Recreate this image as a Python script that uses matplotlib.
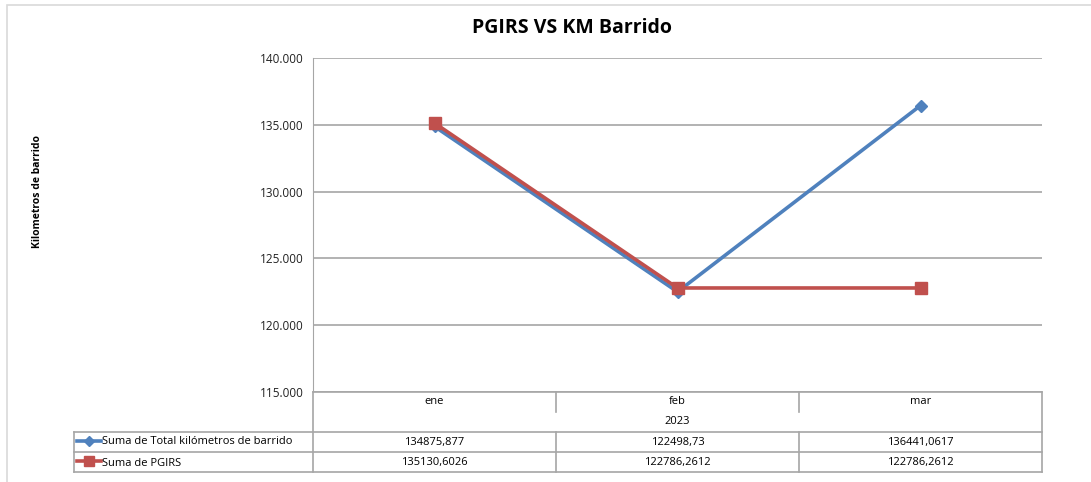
import matplotlib.pyplot as plt
from matplotlib.lines import Line2D
from matplotlib.patches import Rectangle

months = ['ene', 'feb', 'mar']
year = '2023'
km_barrido = [134875.877, 122498.73, 136441.0617]
pgirs = [135130.6026, 122786.2612, 122786.2612]
km_labels = ['134875,877', '122498,73', '136441,0617']
pgirs_labels = ['135130,6026', '122786,2612', '122786,2612']
series_names = ['Suma de Total kilómetros de barrido', 'Suma de PGIRS']
yticks = [115000, 120000, 125000, 130000, 135000, 140000]

W, H = 1091, 482
blue = '#4F81BD'
red = '#C0504D'
grid = '#A6A6A6'
plt.rcParams['font.family'] = ['Open Sans', 'DejaVu Sans']

fig = plt.figure(figsize=(W / 100, H / 100), dpi=100)

# plot area in pixel coords
x0, x1 = 313, 1042
ytop, ybot = 58, 392
ax = fig.add_axes([x0 / W, 1 - ybot / H, (x1 - x0) / W, (ybot - ytop) / H])
ax.set_xlim(-0.5, 2.5)
ax.set_ylim(115000, 140000)
ax.set_yticks(yticks)
ax.set_yticklabels([f'{v // 1000}.000' for v in yticks], fontsize=8.5, color='#222222')
ax.set_xticks([])
ax.tick_params(axis='y', length=0, pad=7)
for s in ['top', 'right', 'bottom']:
    ax.spines[s].set_visible(False)
ax.spines['left'].set_color(grid)
ax.yaxis.grid(True, color=grid, linewidth=1.2)
ax.set_axisbelow(True)

ax.plot(range(3), km_barrido, color=blue, lw=2.6, marker='D', ms=6, zorder=3)
ax.plot(range(3), pgirs, color=red, lw=2.6, marker='s', ms=8, zorder=4)


def px(x, y):
    return x / W, 1 - y / H


def hline(y, xa, xb):
    fig.add_artist(Line2D([xa / W, xb / W], [1 - y / H, 1 - y / H], color=grid, lw=1.2))


def vline(x, ya, yb):
    fig.add_artist(Line2D([x / W, x / W], [1 - ya / H, 1 - yb / H], color=grid, lw=1.2))


# outer chart border
fig.add_artist(Rectangle((7 / W, -0.1), 1.0, 1.1 - 5 / H, transform=fig.transFigure,
                         fill=False, edgecolor='#D9D9D9', lw=1.2))

# data table
cw = (x1 - x0) / 3
hline(ybot, x0, x1)
for y in [432, 452, 472]:
    hline(y, 74, x1)
vline(x0, ybot, 472)
vline(x1, ybot, 472)
vline(74, 432, 472)
for i in (1, 2):
    xs = x0 + i * cw
    vline(xs, ybot, 412)
    vline(xs, 432, 472)

for i, m in enumerate(months):
    cx = x0 + (i + 0.5) * cw
    fig.text(*px(cx, 402), m, ha='center', va='center', fontsize=8)
    fig.text(*px(cx, 442), km_labels[i], ha='center', va='center', fontsize=8)
    fig.text(*px(cx, 462), pgirs_labels[i], ha='center', va='center', fontsize=8)
fig.text(*px((x0 + x1) / 2, 422), year, ha='center', va='center', fontsize=8)

# legend keys in the table
kx = [77 / W, 89 / W, 101 / W]
fig.add_artist(Line2D(kx, [1 - 441 / H] * 3, color=blue, lw=2.6,
                      marker='D', ms=5, markevery=[1], transform=fig.transFigure))
fig.add_artist(Line2D(kx, [1 - 461 / H] * 3, color=red, lw=2.6,
                      marker='s', ms=7, markevery=[1], transform=fig.transFigure))
fig.text(*px(102, 441), series_names[0], ha='left', va='center', fontsize=8)
fig.text(*px(102, 461.5), series_names[1], ha='left', va='center_baseline', fontsize=8)

fig.text(*px(572, 28), 'PGIRS VS KM Barrido', ha='center', va='center',
         fontsize=14, fontweight='bold')
fig.text(*px(38, 192), 'Kilometros de barrido', ha='center', va='center',
         rotation=90, fontsize=7.5, fontweight='bold')

fig.savefig('out.png', dpi=100)
